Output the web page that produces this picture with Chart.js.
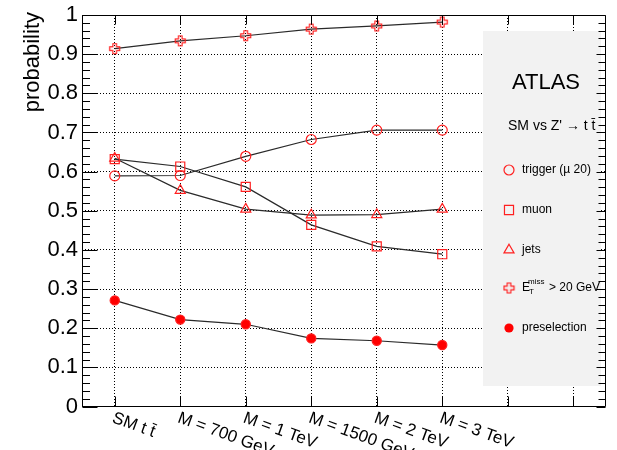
<!DOCTYPE html>
<html>
<head>
<meta charset="utf-8">
<script src="https://cdn.jsdelivr.net/npm/chart.js@4.4.0/dist/chart.umd.min.js"></script>
<style>
  html, body { margin: 0; padding: 0; background: #fff; }
  #c { display: block; }
</style>
</head>
<body>
<canvas id="c" width="617" height="450"></canvas>
<script>
"use strict";

var categories = ["SM t t\u0304", "M = 700 GeV", "M = 1 TeV", "M = 1500 GeV", "M = 2 TeV", "M = 3 TeV", "", ""];
var etmiss = [0.914, 0.934, 0.947, 0.964, 0.972, 0.982];
var trigger = [0.589, 0.590, 0.639, 0.682, 0.706, 0.706];
var muon = [0.632, 0.613, 0.561, 0.464, 0.409, 0.389];
var jets = [0.634, 0.552, 0.504, 0.489, 0.490, 0.504];
var preselection = [0.271, 0.222, 0.210, 0.174, 0.168, 0.157];
var yTickLabels = ["0", "0.1", "0.2", "0.3", "0.4", "0.5", "0.6", "0.7", "0.8", "0.9", "1"];

var FONT = "'Liberation Sans', Arial, sans-serif";
var RED = "#ff2020";

// open cross marker (ROOT style 28)
function makeCross() {
    var c = document.createElement("canvas");
    c.width = 13; c.height = 13;
    var g = c.getContext("2d");
    var m = 6.5, w = 1.8, l = 5;
    g.strokeStyle = RED;
    g.lineWidth = 1.2;
    g.beginPath();
    g.moveTo(m - w, m - l); g.lineTo(m + w, m - l); g.lineTo(m + w, m - w);
    g.lineTo(m + l, m - w); g.lineTo(m + l, m + w); g.lineTo(m + w, m + w);
    g.lineTo(m + w, m + l); g.lineTo(m - w, m + l); g.lineTo(m - w, m + w);
    g.lineTo(m - l, m + w); g.lineTo(m - l, m - w); g.lineTo(m - w, m - w);
    g.closePath();
    g.stroke();
    return c;
}
var crossImg = makeCross();

function series(data, style, radius, filled) {
    return {
        data: data,
        borderColor: "#2a2a2a",
        borderWidth: 1.2,
        tension: 0,
        fill: false,
        pointStyle: style,
        pointRadius: radius,
        pointBorderColor: RED,
        pointBackgroundColor: filled ? "#ff0000" : "rgba(0,0,0,0)",
        pointBorderWidth: 1.2
    };
}

var legendItems = [
    { text: "trigger (\u00b5 20)", style: "circle", r: 5, filled: false },
    { text: "muon", style: "rect", r: 6.4, filled: false },
    { text: "jets", style: "triangle", r: 5.8, filled: false },
    { text: "ETMISS", style: crossImg, r: 6, filled: false },
    { text: "preselection", style: "circle", r: 4.6, filled: true }
];

function marker(ctx, style, r, x, y, filled) {
    ctx.save();
    ctx.strokeStyle = RED;
    ctx.fillStyle = "#ff0000";
    ctx.lineWidth = 1.2;
    if (typeof style !== "string") {
        ctx.drawImage(style, x - style.width / 2, y - style.height / 2);
        ctx.restore();
        return;
    }
    ctx.beginPath();
    if (style === "circle") {
        ctx.arc(x, y, r, 0, Math.PI * 2);
    } else if (style === "rect") {
        var s = r * Math.SQRT1_2;
        ctx.rect(x - s, y - s, 2 * s, 2 * s);
    } else if (style === "triangle") {
        ctx.moveTo(x, y - r);
        ctx.lineTo(x + r * Math.cos(Math.PI / 6), y + r / 2);
        ctx.lineTo(x - r * Math.cos(Math.PI / 6), y + r / 2);
        ctx.closePath();
    }
    if (filled) ctx.fill(); else ctx.stroke();
    ctx.restore();
}

var decor = {
    id: "decor",
    beforeDatasetsDraw: function (chart) {
        var ctx = chart.ctx;
        ctx.save();
        ctx.fillStyle = "#f2f2f2";
        ctx.fillRect(483, 31, 118, 355);
        ctx.restore();
    },
    afterDraw: function (chart) {
        var ctx = chart.ctx;
        var a = chart.chartArea;
        var xs = chart.scales.x, ys = chart.scales.y;
        var L = Math.round(a.left) + 0.5, R = Math.round(a.right) - 0.5;
        var T = Math.round(a.top) + 0.5, B = Math.round(a.bottom) - 0.5;
        ctx.save();
        ctx.strokeStyle = "#000";
        ctx.lineWidth = 1;
        ctx.beginPath();
        ctx.rect(L, T, R - L, B - T);
        // y ticks, left and right
        for (var i = 0; i <= 50; i++) {
            var py = Math.round(ys.getPixelForValue(i * 0.02)) + 0.5;
            var major = i % 5 === 0;
            ctx.moveTo(L, py); ctx.lineTo(L + (major ? 15 : 7.5), py);
            ctx.moveTo(R, py); ctx.lineTo(R - (major ? 9 : 7), py);
        }
        // x ticks, bottom and top
        for (var j = 0; j < categories.length; j++) {
            var px = Math.round(xs.getPixelForValue(j)) + 0.5;
            ctx.moveTo(px, B); ctx.lineTo(px, B - 10);
            ctx.moveTo(px, T); ctx.lineTo(px, T + 9);
        }
        ctx.stroke();

        // rotated category labels
        ctx.fillStyle = "#000";
        ctx.font = "17px " + FONT;
        ctx.textAlign = "left";
        ctx.textBaseline = "top";
        for (var k = 0; k < categories.length; k++) {
            if (!categories[k]) continue;
            ctx.save();
            ctx.translate(xs.getPixelForValue(k) + 1, a.bottom + 3);
            ctx.rotate(20 * Math.PI / 180);
            ctx.fillText(categories[k], 0, 0);
            ctx.restore();
        }

        // y title
        ctx.save();
        ctx.font = "22px " + FONT;
        ctx.translate(39, 12);
        ctx.rotate(-Math.PI / 2);
        ctx.textAlign = "right";
        ctx.textBaseline = "alphabetic";
        ctx.fillText("probability", 0, 0);
        ctx.restore();

        // legend contents
        ctx.textAlign = "center";
        ctx.textBaseline = "middle";
        ctx.font = "22px " + FONT;
        ctx.fillText("ATLAS", 546, 83);
        ctx.font = "14px " + FONT;
        ctx.textAlign = "left";
        ctx.fillText("SM vs Z' \u2192 t t\u0304", 508, 126);

        var ly = [170, 210, 250, 288, 328];
        ctx.font = "12px " + FONT;
        legendItems.forEach(function (it, n) {
            marker(ctx, it.style, it.r, 509, ly[n], it.filled);
            if (it.text === "ETMISS") {
                ctx.font = "12px " + FONT;
                ctx.fillText("E", 522, ly[n]);
                ctx.font = "8px " + FONT;
                ctx.fillText("T", 529, ly[n] + 4);
                ctx.fillText("miss", 528, ly[n] - 6);
                ctx.font = "12px " + FONT;
                ctx.fillText("> 20 GeV", 549, ly[n]);
            } else {
                ctx.fillText(it.text, 522, ly[n]);
            }
        });
        ctx.restore();
    }
};

var chart = new Chart(document.getElementById("c").getContext("2d"), {
    type: "line",
    data: {
        labels: categories,
        datasets: [
            series(etmiss, crossImg, 6, false),
            series(trigger, "circle", 5, false),
            series(muon, "rect", 6.4, false),
            series(jets, "triangle", 5.8, false),
            series(preselection, "circle", 4.6, true)
        ]
    },
    options: {
        responsive: false,
        animation: false,
        devicePixelRatio: 1,
        layout: { padding: { top: 11, right: 11, left: 0, bottom: 0 } },
        plugins: {
            legend: { display: false },
            tooltip: { enabled: false }
        },
        scales: {
            x: {
                type: "category",
                offset: true,
                grid: { offset: false, color: "#000", lineWidth: 1, drawTicks: false },
                border: { display: false, dash: [1, 2] },
                ticks: { display: false },
                afterFit: function (s) { s.height = 43.5; }
            },
            y: {
                min: 0,
                max: 1,
                ticks: {
                    stepSize: 0.1,
                    color: "#000",
                    padding: 4,
                    font: { family: FONT, size: 22, lineHeight: 1 },
                    callback: function (v, i) { return yTickLabels[i]; }
                },
                grid: { color: "#000", lineWidth: 1, drawTicks: false },
                border: { display: false, dash: [1, 2] },
                afterFit: function (s) { s.width = 82; }
            }
        }
    },
    plugins: [decor]
});
</script>
</body>
</html>
